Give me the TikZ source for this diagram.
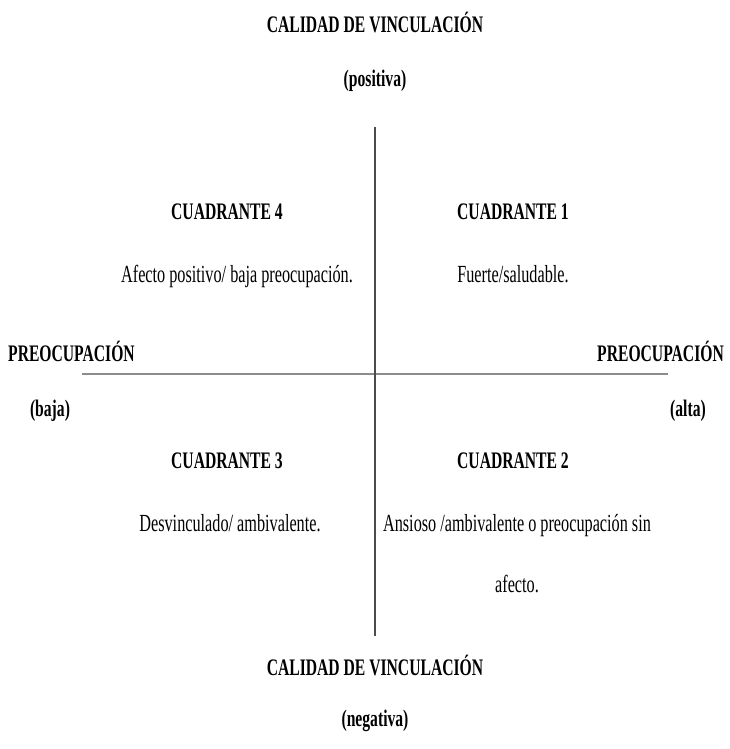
\documentclass[tikz,border=0pt]{standalone}
\usepackage{fontspec}
\setmainfont{Liberation Serif}[FakeStretch=0.66]
\usepackage{tikz}
\usetikzlibrary{positioning}

\tikzset{
	titulo/.style={font=\fontsize{23.7}{26}\selectfont\bfseries, anchor=base, inner sep=0pt},
	texto/.style={font=\fontsize{24.6}{27}\selectfont, anchor=base, inner sep=0pt},
	eje/.style={draw=black!70, line width=1.2pt},
	ejeh/.style={draw=black!45, line width=2.4pt}
}

\begin{document}
\begin{tikzpicture}[x=1pt,y=1pt]
	\useasboundingbox (0,0) rectangle (729,749);

	% ejes
	\coordinate (arriba)    at (375,622);
	\coordinate (abajo)     at (375,113);
	\coordinate (izquierda) at (82,375);
	\coordinate (derecha)   at (668,375);
	\draw[ejeh] (izquierda) -- (derecha);
	\draw[eje]  (arriba) -- (abajo);

	% eje vertical
	\node[titulo] (vincsup)  at (375,716) {CALIDAD DE VINCULACIÓN};
	\node[titulo] (positiva) at (375,662) {(positiva)};
	\node[titulo] (vincinf)  at (375,73)  {CALIDAD DE VINCULACIÓN};
	\node[titulo] (negativa) at (375,23)  {(negativa)};

	% eje horizontal
	\node[titulo, anchor=base west] (preoizq) at (8,387)   {PREOCUPACIÓN};
	\node[titulo, anchor=base east] (preoder) at (724,387) {PREOCUPACIÓN};
	\node[titulo] (baja) at (50,332)  {(baja)};
	\node[titulo] (alta) at (688,332) {(alta)};

	% cuadrantes
	\node[titulo] (cuad4) at (227,529) {CUADRANTE 4};
	\node[texto]  (desc4) at (237,466) {Afecto positivo/ baja preocupación.};
	\node[titulo] (cuad1) at (513,529) {CUADRANTE 1};
	\node[texto]  (desc1) at (513,466) {Fuerte/saludable.};
	\node[titulo] (cuad3) at (227,280) {CUADRANTE 3};
	\node[texto]  (desc3) at (230,217) {Desvinculado/ ambivalente.};
	\node[titulo] (cuad2) at (513,280) {CUADRANTE 2};
	\node[texto]  (desc2) at (517,217) {Ansioso /ambivalente o preocupación sin};
	\node[texto]  (desc2b) at (517,156) {afecto.};
\end{tikzpicture}
\end{document}
